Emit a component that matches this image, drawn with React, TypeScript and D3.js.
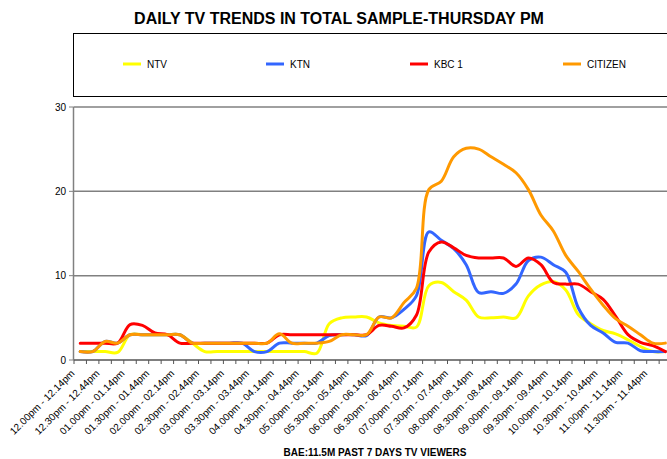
import React from "react";
import * as d3 from "d3";

const categories = [
  "12.00pm - 12.14pm", "12.15pm - 12.29pm", "12.30pm - 12.44pm", "12.45pm - 12.59pm",
  "01.00pm - 01.14pm", "01.15pm - 01.29pm", "01.30pm - 01.44pm", "01.45pm - 01.59pm",
  "02.00pm - 02.14pm", "02.15pm - 02.29pm", "02.30pm - 02.44pm", "02.45pm - 02.59pm",
  "03.00pm - 03.14pm", "03.15pm - 03.29pm", "03.30pm - 03.44pm", "03.45pm - 03.59pm",
  "04.00pm - 04.14pm", "04.15pm - 04.29pm", "04.30pm - 04.44pm", "04.45pm - 04.59pm",
  "05.00pm - 05.14pm", "05.15pm - 05.29pm", "05.30pm - 05.44pm", "05.45pm - 05.59pm",
  "06.00pm - 06.14pm", "06.15pm - 06.29pm", "06.30pm - 06.44pm", "06.45pm - 06.59pm",
  "07.00pm - 07.14pm", "07.15pm - 07.29pm", "07.30pm - 07.44pm", "07.45pm - 07.59pm",
  "08.00pm - 08.14pm", "08.15pm - 08.29pm", "08.30pm - 08.44pm", "08.45pm - 08.59pm",
  "09.00pm - 09.14pm", "09.15pm - 09.29pm", "09.30pm - 09.44pm", "09.45pm - 09.59pm",
  "10.00pm - 10.14pm", "10.15pm - 10.29pm", "10.30pm - 10.44pm", "10.45pm - 10.59pm",
  "11.00pm - 11.14pm", "11.15pm - 11.29pm", "11.30pm - 11.44pm", "11.45pm - 11.59pm",
];

const ntv = [
  1, 1, 1, 0.9, 3, 3, 3, 3, 3, 2, 1, 1,
  1, 1, 1, 1, 1, 1, 1, 0.8, 4.3, 5.0, 5.1, 5.1,
  4.4, 4.1, 4.0, 3.9, 8.8, 9.2, 8.1, 7.1, 5.1, 5.0, 5.1, 5.0,
  7.6, 8.9, 9.3, 8.3, 5.4, 4.3, 3.5, 3.1, 2.4, 1.6, 1.0, 1.0,
];
const ktn = [
  1, 1, 2.2, 2, 3, 3, 3, 3, 3, 2, 2, 2,
  2, 2, 1, 1, 2, 2, 2, 2, 2.9, 3, 3, 2.9,
  5.1, 5.0, 6.0, 7.6, 15.2, 14.2, 13.2, 11.3, 8.0, 8.1, 7.9, 9.0,
  11.8, 12.2, 11.3, 10.4, 6.2, 4.1, 3.2, 2.1, 2.0, 1.1, 1.0, 1.0,
];
const kbc1 = [
  2, 2, 2, 2, 4.2, 4.1, 3.2, 3, 2, 2, 2, 2,
  2, 2, 2, 2, 3, 3, 3, 3, 3, 3, 3, 3,
  4.1, 4.0, 3.8, 5.3, 12.8, 14.0, 13.3, 12.4, 12.1, 12.1, 12.1, 11.1,
  12.1, 11.3, 9.2, 9.0, 9.0, 8.1, 7.2, 5.2, 3.0, 2.1, 1.7, 1.0,
];
const citizen = [
  1, 1, 2.2, 2, 3, 3, 3, 3, 3, 2, 2, 2,
  2, 2, 2, 2, 3.1, 2, 2, 2, 2.2, 3, 3, 3,
  5.1, 5.0, 6.8, 8.5, 20.2, 21.2, 24.1, 25.1, 25.0, 24.1, 23.2, 22.2,
  20.2, 17.2, 15.3, 12.4, 10.5, 8.4, 6.5, 4.9, 4.0, 3.0, 2.0, 2.0,
];

const seriesNames = ["NTV", "KTN", "KBC 1", "CITIZEN"];
const seriesColors = ["#FFFF00", "#3366FF", "#FF0000", "#FF9900"];
const seriesValues = [ntv, ktn, kbc1, citizen];
const yTicks = [0, 10, 20, 30];
const legendX = [123, 266, 410, 563];

const FONT = "'Liberation Sans', Arial, Helvetica, sans-serif";

export default function App() {
  const W = 667;
  const H = 459;
  const left = 74;
  const step = 12.45;
  const x = d3
    .scaleBand<string>()
    .domain(categories)
    .range([left, left + categories.length * step])
    .paddingInner(0)
    .paddingOuter(0);
  const y = d3.scaleLinear().domain([0, 30]).range([360, 107]);
  const cx = (i: number) => (x(categories[i]) as number) + x.bandwidth() / 2;

  const line = d3
    .line<number>()
    .x((_, i) => cx(i))
    .y((d) => y(d))
    .curve(d3.curveCatmullRom.alpha(0.5));

  const tickBounds = d3.range(categories.length + 1).map((i) => left + i * step);

  return (
    <svg
      width={W}
      height={H}
      style={{ position: "absolute", left: 0, top: 0, background: "#fff" }}
      fontFamily={FONT}
    >
      <rect x={0} y={0} width={W} height={H} fill="#fff" />
      <text x={339} y={24} textAnchor="middle" fontSize={16} fontWeight="bold" fill="#000">
        DAILY TV TRENDS IN TOTAL SAMPLE-THURSDAY PM
      </text>

      {/* legend */}
      <rect x={73.5} y={33.5} width={640} height={63} fill="#fff" stroke="#000" strokeWidth={1} />
      {seriesNames.map((n, i) => (
        <g key={n}>
          <line x1={legendX[i]} x2={legendX[i] + 18} y1={64} y2={64} stroke={seriesColors[i]} strokeWidth={3} />
          <text x={legendX[i] + 24} y={67.5} fontSize={10} fill="#000">
            {n}
          </text>
        </g>
      ))}

      {/* gridlines */}
      {yTicks
        .filter((t) => t > 0)
        .map((t) => (
          <line key={t} x1={left} x2={W} y1={y(t)} y2={y(t)} stroke="#808080" strokeWidth={1.5} />
        ))}

      {/* y axis */}
      <line x1={73.5} x2={73.5} y1={y(30)} y2={y(0)} stroke="#808080" strokeWidth={1.5} />
      {yTicks.map((t) => (
        <g key={t}>
          <line x1={69} x2={74} y1={y(t)} y2={y(t)} stroke="#808080" strokeWidth={1} />
          <text x={66} y={y(t) + 3.5} textAnchor="end" fontSize={10} fill="#000">
            {t}
          </text>
        </g>
      ))}

      {/* series */}
      {seriesValues.map((vals, i) => (
        <path key={seriesNames[i]} d={line(vals) || ""} fill="none" stroke={seriesColors[i]} strokeWidth={3} strokeLinejoin="round" strokeLinecap="round" />
      ))}

      {/* x axis */}
      <line x1={left} x2={W} y1={360} y2={360} stroke="#555" strokeWidth={1.5} />
      {tickBounds.map((tx, i) => (
        <line key={i} x1={tx} x2={tx} y1={360} y2={364} stroke="#555" strokeWidth={1} />
      ))}
      {categories.map((c, i) =>
        i % 2 === 0 ? (
          <text
            key={c}
            transform={`translate(${cx(i) - 5},${374}) rotate(-45)`}
            textAnchor="end"
            fontSize={10}
            fill="#000"
          >
            {c}
          </text>
        ) : null
      )}

      <text x={375} y={456} textAnchor="middle" fontSize={10} fontWeight="bold" fill="#000">
        BAE:11.5M PAST 7 DAYS TV VIEWERS
      </text>
    </svg>
  );
}
